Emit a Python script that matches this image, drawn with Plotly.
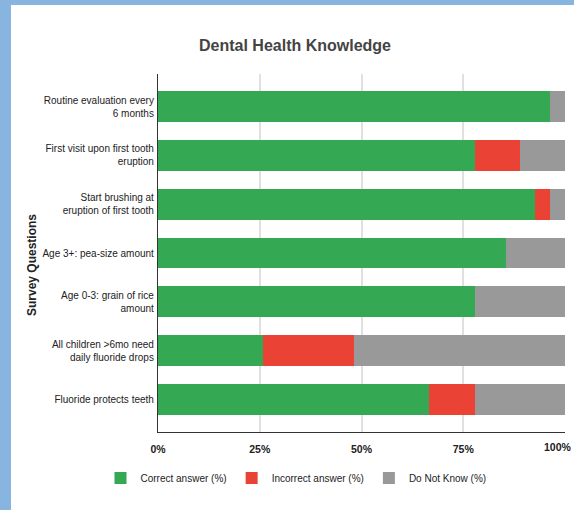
import plotly.graph_objects as go

categories = [
    "Routine evaluation every<br>6 months",
    "First visit upon first tooth<br>eruption",
    "Start brushing at<br>eruption of first tooth",
    "Age 3+: pea-size amount",
    "Age 0-3: grain of rice<br>amount",
    "All children >6mo need<br>daily fluoride drops",
    "Fluoride protects teeth",
]
correct = [96.3, 77.8, 92.6, 85.6, 77.8, 25.9, 66.7]
incorrect = [0.0, 11.1, 3.7, 0.0, 0.0, 22.2, 11.1]
dont_know = [3.7, 11.1, 3.7, 14.4, 22.2, 51.9, 22.2]
series_names = ["Correct answer (%)", "Incorrect answer (%)", "Do Not Know (%)"]
colors = ["#34a853", "#ea4335", "#999999"]
tick_vals = [0, 25, 50, 75, 100]
tick_text = ["0%", "25%", "50%", "75%", "100%"]

FONT = "Liberation Sans, Arial, sans-serif"

fig = go.Figure()
for name, vals, col in zip(series_names, [correct, incorrect, dont_know], colors):
    fig.add_trace(go.Bar(
        y=categories, x=vals, name=name, orientation="h",
        marker=dict(color=col, line=dict(width=0)),
        hoverinfo="x+y",
    ))

W, H = 574, 510
L, R, T, B = 158, 9, 74, 78
pw, ph = W - L - R, H - T - B

def px_x(px):
    return (px - L) / pw

def px_y(py):
    return (H - B - py) / ph

# the last tick label overflows the right edge in the original; draw it
# right-aligned to the figure edge so it stays visible
shown_ticks = ["<b>%s</b>" % t for t in tick_text[:-1]] + [""]

fig.update_layout(
    width=W, height=H,
    margin=dict(l=L, r=R, t=T, b=B, pad=0),
    barmode="stack",
    bargap=0.365,
    paper_bgcolor="#87b5e0",
    plot_bgcolor="white",
    title=dict(
        text="Dental Health Knowledge",
        x=295 / W, xanchor="center",
        y=1 - 45 / H, yanchor="middle",
        font=dict(family=FONT, size=16, color="#444444", weight="bold"),
    ),
    xaxis=dict(
        range=[0, 100],
        tickvals=tick_vals,
        ticktext=shown_ticks,
        tickfont=dict(family=FONT, size=10.5, color="#222222"),
        ticklabelstandoff=7,
        showgrid=True, gridcolor="#e0e0e0", gridwidth=1.5,
        zeroline=False,
        showline=True, linecolor="#333333", linewidth=1.2,
        ticks="", fixedrange=True,
    ),
    yaxis=dict(
        type="category",
        categoryorder="array", categoryarray=categories,
        range=[6.668, -0.668],
        tickfont=dict(family=FONT, size=10, color="#222222"),
        showgrid=False, zeroline=False,
        showline=True, linecolor="#333333", linewidth=1.2,
        ticks="", ticklabelstandoff=1,
    ),
    legend=dict(
        orientation="h",
        traceorder="normal",
        x=px_x(296), xanchor="center",
        y=px_y(478), yanchor="middle",
        font=dict(family=FONT, size=10, color="#222222"),
        bgcolor="rgba(0,0,0,0)",
        itemwidth=30,
    ),
    showlegend=True,
    shapes=[dict(
        type="rect", xref="paper", yref="paper", layer="below",
        x0=px_x(11), x1=px_x(W + 2), y0=px_y(H + 2), y1=px_y(5),
        fillcolor="white", line=dict(width=0),
    )],
    annotations=[
        dict(
            text="<b>Survey Questions</b>", textangle=-90,
            xref="paper", yref="paper",
            x=px_x(32), y=px_y(265), xanchor="center", yanchor="middle",
            showarrow=False,
            font=dict(family=FONT, size=12, color="#222222"),
        ),
        dict(
            text="<b>%s</b>" % tick_text[-1],
            xref="paper", yref="paper",
            x=px_x(W), y=px_y(447), xanchor="right", yanchor="middle",
            showarrow=False,
            font=dict(family=FONT, size=10.5, color="#222222"),
        ),
    ],
)

fig.write_html("out.html")
